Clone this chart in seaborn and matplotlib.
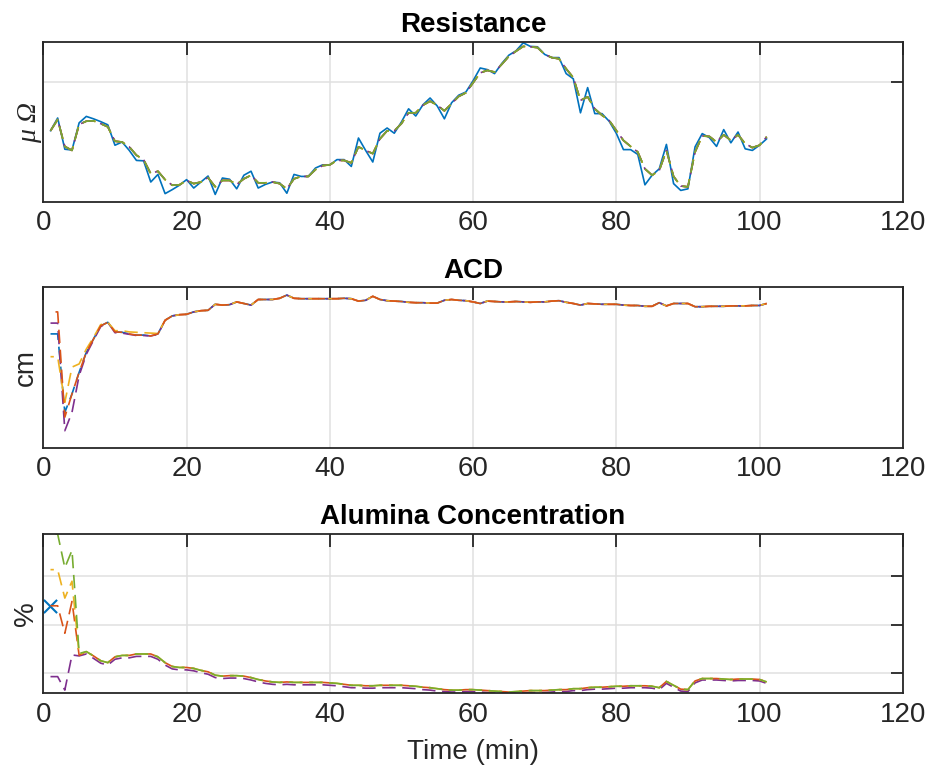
import numpy as np
import matplotlib.pyplot as plt
import seaborn as sns

# time axis (min)
time_min = np.arange(1, 102)

# Resistance: measured (solid) and estimates (dashed)
res_meas = [1.78, 2.10, 1.32, 1.30, 1.98, 2.14, 2.08, 2.01, 1.93, 1.42,
            1.50, 1.29, 1.04, 1.03, 0.50, 0.69, 0.21, 0.31, 0.42, 0.56,
            0.35, 0.50, 0.65, 0.19, 0.60, 0.57, 0.33, 0.67, 0.77, 0.35,
            0.44, 0.50, 0.48, 0.22, 0.69, 0.64, 0.64, 0.85, 0.93, 0.93,
            1.06, 1.06, 0.89, 1.60, 1.29, 1.00, 1.72, 1.85, 1.72, 2.00,
            2.33, 2.15, 2.43, 2.60, 2.40, 2.08, 2.48, 2.67, 2.75, 3.03,
            3.35, 3.31, 3.21, 3.46, 3.67, 3.78, 3.98, 3.89, 3.88, 3.69,
            3.61, 3.61, 3.21, 3.08, 2.23, 2.86, 2.21, 2.21, 2.02, 1.72,
            1.31, 1.31, 1.19, 0.43, 0.67, 0.83, 1.44, 0.46, 0.29, 0.33,
            1.38, 1.71, 1.61, 1.39, 1.81, 1.48, 1.75, 1.33, 1.29, 1.42,
            1.58]
res_est = [1.78, 2.06, 1.39, 1.29, 1.94, 2.02, 2.03, 1.96, 1.88, 1.52,
           1.50, 1.38, 1.17, 1.06, 0.71, 0.77, 0.56, 0.42, 0.43, 0.54,
           0.46, 0.50, 0.61, 0.38, 0.54, 0.54, 0.44, 0.58, 0.67, 0.48,
           0.48, 0.50, 0.46, 0.33, 0.58, 0.64, 0.64, 0.81, 0.91, 0.93,
           1.04, 1.04, 0.98, 1.38, 1.29, 1.21, 1.58, 1.78, 1.78, 1.96,
           2.23, 2.23, 2.42, 2.52, 2.42, 2.28, 2.46, 2.64, 2.73, 2.98,
           3.23, 3.29, 3.25, 3.44, 3.64, 3.77, 3.89, 3.88, 3.86, 3.69,
           3.61, 3.58, 3.33, 3.11, 2.54, 2.63, 2.33, 2.17, 2.04, 1.79,
           1.54, 1.39, 1.25, 0.83, 0.67, 0.79, 1.29, 0.64, 0.40, 0.38,
           1.25, 1.65, 1.64, 1.50, 1.68, 1.54, 1.68, 1.46, 1.36, 1.42,
           1.63]

# ACD: first 16 samples differ per estimator, the rest coincide
acd_head_blue = [4.84, 4.84, 2.88, 3.34, 3.88, 4.38, 4.71, 5.04, 5.13, 4.89, 4.88, 4.84, 4.81, 4.81, 4.79, 4.84]
acd_head_orange = [5.39, 5.39, 2.76, 3.34, 3.88, 4.38, 4.71, 5.04, 5.13, 4.89, 4.88, 4.84, 4.81, 4.81, 4.79, 4.84]
acd_head_yellow = [4.27, 4.27, 3.13, 4.01, 4.09, 4.46, 4.75, 5.07, 5.13, 4.92, 4.92, 4.89, 4.88, 4.87, 4.86, 4.85]
acd_head_purple = [5.11, 5.11, 2.42, 2.88, 3.80, 4.33, 4.68, 5.02, 5.13, 4.87, 4.86, 4.83, 4.80, 4.80, 4.79, 4.83]
acd_tail = [5.18, 5.29, 5.32, 5.33, 5.39, 5.42, 5.43, 5.58, 5.56, 5.57,
            5.64, 5.60, 5.56, 5.70, 5.70, 5.70, 5.73, 5.81, 5.73, 5.72,
            5.72, 5.72, 5.72, 5.72, 5.72, 5.73, 5.72, 5.66, 5.68, 5.78,
            5.70, 5.67, 5.66, 5.65, 5.63, 5.62, 5.62, 5.61, 5.61, 5.68,
            5.70, 5.68, 5.67, 5.64, 5.60, 5.66, 5.65, 5.64, 5.64, 5.65,
            5.64, 5.63, 5.64, 5.64, 5.66, 5.67, 5.63, 5.60, 5.56, 5.60,
            5.59, 5.58, 5.58, 5.58, 5.56, 5.55, 5.55, 5.53, 5.53, 5.62,
            5.54, 5.60, 5.60, 5.60, 5.52, 5.52, 5.53, 5.53, 5.53, 5.54,
            5.54, 5.54, 5.55, 5.55, 5.60]

# Alumina concentration
alu_meas_t = [1]
alu_meas = [3.39]
alu_head_orange = [3.39, 3.39, 2.82, 3.48, 2.36]
alu_head_yellow = [4.14, 4.14, 3.55, 3.90, 2.38]
alu_head_green = [4.88, 4.88, 4.18, 4.54, 2.40]
alu_head_purple = [1.92, 1.92, 1.64, 2.37, 2.35]
alu_tail = [2.44, 2.35, 2.25, 2.21, 2.33, 2.36, 2.36, 2.39, 2.39, 2.39,
            2.33, 2.21, 2.13, 2.11, 2.11, 2.09, 2.05, 2.02, 1.95, 1.93,
            1.94, 1.94, 1.93, 1.90, 1.86, 1.83, 1.81, 1.80, 1.81, 1.80,
            1.80, 1.80, 1.80, 1.80, 1.79, 1.78, 1.76, 1.74, 1.74, 1.73,
            1.73, 1.74, 1.74, 1.74, 1.74, 1.73, 1.72, 1.70, 1.69, 1.67,
            1.65, 1.64, 1.64, 1.65, 1.65, 1.64, 1.63, 1.62, 1.61, 1.60,
            1.61, 1.62, 1.63, 1.63, 1.63, 1.64, 1.65, 1.65, 1.67, 1.67,
            1.69, 1.70, 1.70, 1.71, 1.72, 1.72, 1.73, 1.73, 1.73, 1.72,
            1.69, 1.82, 1.74, 1.66, 1.65, 1.83, 1.88, 1.88, 1.88, 1.87,
            1.86, 1.87, 1.87, 1.87, 1.86, 1.81]
# the purple estimate runs a little below the others
alu_tail_purple = [2.39, 2.30, 2.20, 2.16, 2.28, 2.31, 2.31, 2.34, 2.34, 2.34,
                   2.28, 2.16, 2.08, 2.06, 2.06, 2.04, 2.00, 1.97, 1.90, 1.88,
                   1.89, 1.89, 1.88, 1.85, 1.81, 1.78, 1.76, 1.75, 1.76, 1.75,
                   1.75, 1.75, 1.75, 1.75, 1.74, 1.73, 1.71, 1.69, 1.69, 1.68,
                   1.68, 1.69, 1.69, 1.69, 1.69, 1.68, 1.67, 1.65, 1.64, 1.62,
                   1.61, 1.60, 1.60, 1.61, 1.61, 1.60, 1.59, 1.58, 1.58, 1.58,
                   1.58, 1.58, 1.59, 1.59, 1.59, 1.60, 1.61, 1.61, 1.63, 1.63,
                   1.65, 1.66, 1.66, 1.67, 1.68, 1.68, 1.69, 1.69, 1.69, 1.68,
                   1.65, 1.78, 1.70, 1.62, 1.61, 1.79, 1.85, 1.85, 1.85, 1.84,
                   1.83, 1.84, 1.84, 1.84, 1.83, 1.78]

blue, orange, yellow, purple, green = '#0072BD', '#D95319', '#EDB120', '#7E2F8E', '#77AC30'
dark = '#262626'
LW = 1.2

sns.set_style('white')
plt.rcParams['font.family'] = ['Liberation Sans', 'DejaVu Sans']

fig = plt.figure(figsize=(9.28, 7.72), dpi=100)
ax1 = fig.add_axes([0.0467, 0.7383, 0.9261, 0.2073])
ax2 = fig.add_axes([0.0467, 0.4203, 0.9261, 0.2073])
ax3 = fig.add_axes([0.0467, 0.1017, 0.9261, 0.2066])


def dashed(ax, y, color, off=0):
    sns.lineplot(x=time_min, y=y, ax=ax, color=color, lw=LW,
                 linestyle=(off, (8, 4)), estimator=None)


def style(ax, title, ylim, yticks):
    ax.set_xlim(0, 120)
    ax.set_xticks(range(0, 121, 20))
    ax.set_ylim(ylim)
    ax.set_yticks(yticks)
    ax.grid(True, color='#e0e0e0', lw=1.1)
    ax.set_axisbelow(True)
    ax.tick_params(direction='in', top=True, right=True, length=9, width=1.3,
                   color=dark, labelcolor=dark, labelsize=20, pad=6,
                   labelleft=False, labelright=False)
    for sp in ax.spines.values():
        sp.set_color(dark)
        sp.set_linewidth(1.3)
    ax.set_title(title, fontsize=20, fontweight='bold', color='black', pad=7)
    ax.set_xlabel('')


# Resistance
sns.lineplot(x=time_min, y=res_meas, ax=ax1, color=blue, lw=LW, estimator=None)
dashed(ax1, res_est, orange, 0)
dashed(ax1, res_est, yellow, 0)
dashed(ax1, res_est, purple, 1)
dashed(ax1, res_est, green, 0)
style(ax1, 'Resistance', (0, 4), [3])
ax1.set_ylabel('μ Ω', fontsize=20, family='Liberation Serif', style='italic',
               color=dark, labelpad=1)

# ACD
dashed(ax2, acd_head_blue + acd_tail, blue, 0)
dashed(ax2, acd_head_purple + acd_tail, purple, 3)
dashed(ax2, acd_head_yellow + acd_tail, yellow, 6)
dashed(ax2, acd_head_orange + acd_tail, orange, 9)
style(ax2, 'ACD', (2, 6), [])
ax2.set_ylabel('cm', fontsize=20, color=dark, labelpad=3)

# Alumina
sns.scatterplot(x=alu_meas_t, y=alu_meas, ax=ax3, color=blue, marker='x', s=90, linewidth=1.5)
dashed(ax3, alu_head_purple + alu_tail_purple, purple, 0)
dashed(ax3, alu_head_orange + alu_tail, orange, 3)
dashed(ax3, alu_head_yellow + alu_tail, yellow, 6)
dashed(ax3, alu_head_green + alu_tail, green, 9)
style(ax3, 'Alumina Concentration', (1.57, 4.88), [2, 3, 4])
ax3.set_ylabel('%', fontsize=20, color=dark, labelpad=3)
ax3.set_xlabel('Time (min)', fontsize=20, color=dark, labelpad=8)

fig.savefig('out.png', dpi=100)
